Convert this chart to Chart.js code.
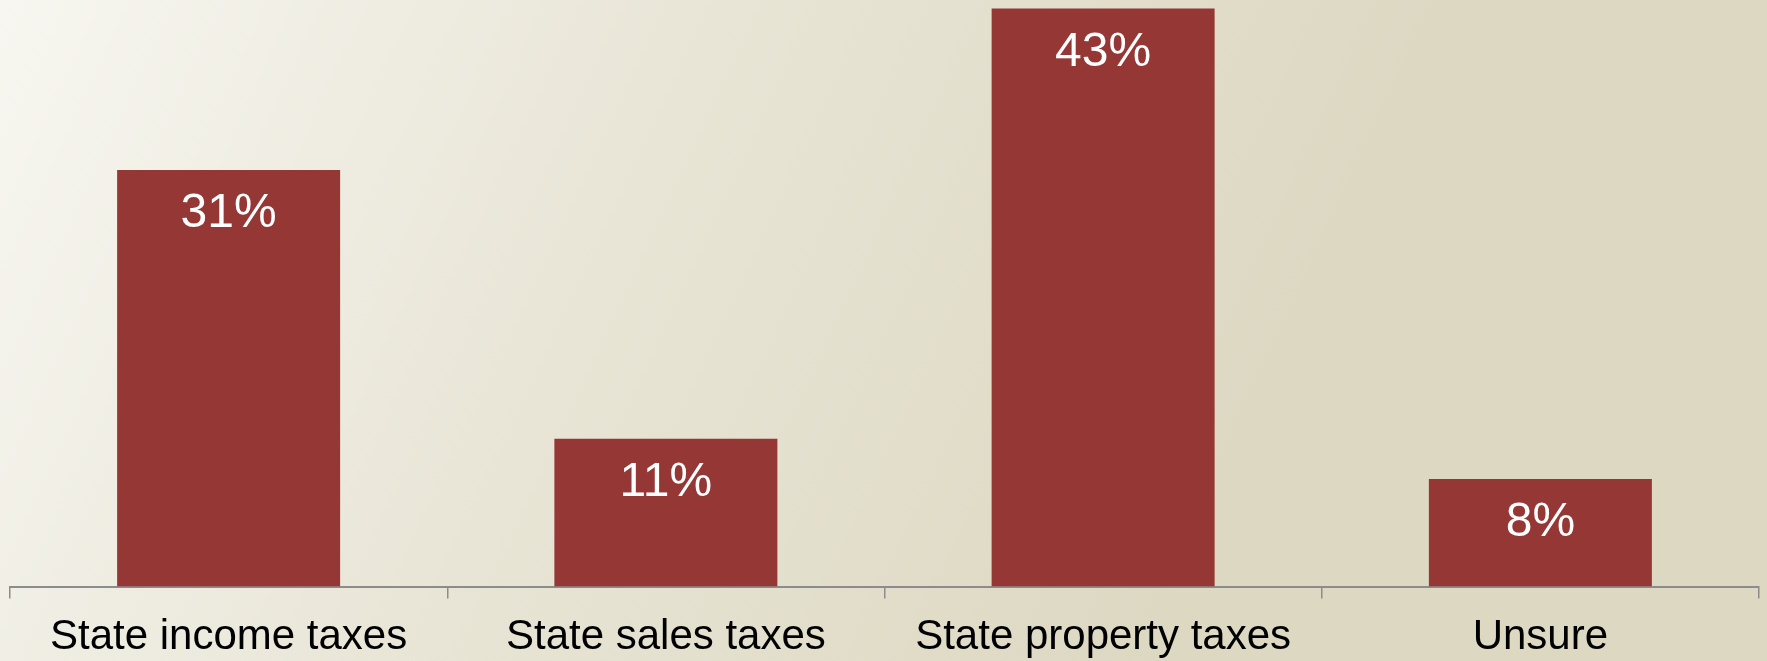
<!DOCTYPE html>
<html>
<head>
<meta charset="utf-8">
<script src="https://cdn.jsdelivr.net/npm/chart.js@4/dist/chart.umd.min.js"></script>
<style>
    html, body { margin: 0; padding: 0; }
    body {
        width: 1767px; height: 661px; overflow: hidden;
        background: linear-gradient(115deg, #f7f6f0 0%, #e8e5d6 35%, #ddd8c2 70%, #ddd8c2 100%);
    }
    /* el lienzo es algo más alto que la ventana para bajar las etiquetas del eje */
    #wrap { width: 1767px; height: 677px; }
</style>
</head>
<body>
<div id="wrap"><canvas id="grafica"></canvas></div>
<script>
const categorias = ['State income taxes', 'State sales taxes', 'State property taxes', 'Unsure'];
const valores = [31, 11, 43, 8];
const etiquetas = ['31%', '11%', '43%', '8%'];

// etiquetas blancas dentro de cada barra, cerca del borde superior
const etiquetasBarras = {
    id: 'etiquetasBarras',
    afterDatasetsDraw(chart) {
        const ctx = chart.ctx;
        const meta = chart.getDatasetMeta(0);
        ctx.save();
        ctx.fillStyle = '#ffffff';
        ctx.font = '48px "Liberation Sans", Arial, sans-serif';
        ctx.textAlign = 'center';
        ctx.textBaseline = 'middle';
        meta.data.forEach((barra, i) => {
            ctx.fillText(etiquetas[i], barra.x, barra.y + 44);
        });
        ctx.restore();
    }
};

const ctx = document.getElementById('grafica').getContext('2d');
new Chart(ctx, {
    type: 'bar',
    data: {
        labels: categorias,
        datasets: [{
            data: valores,
            backgroundColor: '#953735',
            borderWidth: 0,
            categoryPercentage: 1,
            barPercentage: 0.51
        }]
    },
    options: {
        responsive: true,
        maintainAspectRatio: false,
        animation: false,
        layout: { padding: { left: 10, right: 8, top: 0, bottom: 0 } },
        plugins: {
            legend: { display: false },
            tooltip: { enabled: false }
        },
        scales: {
            x: {
                grid: {
                    display: true,
                    drawOnChartArea: false,
                    drawTicks: true,
                    tickLength: 12,
                    color: '#8c8c8c',
                    lineWidth: 1.5
                },
                border: { display: true, color: '#8c8c8c', width: 2 },
                ticks: {
                    color: '#000000',
                    padding: 14,
                    maxRotation: 0,
                    font: { family: '"Liberation Sans", Arial, sans-serif', size: 42, lineHeight: 1.2 }
                }
            },
            y: {
                display: false,
                min: 0,
                max: 43.64
            }
        }
    },
    plugins: [etiquetasBarras]
});
</script>
</body>
</html>
